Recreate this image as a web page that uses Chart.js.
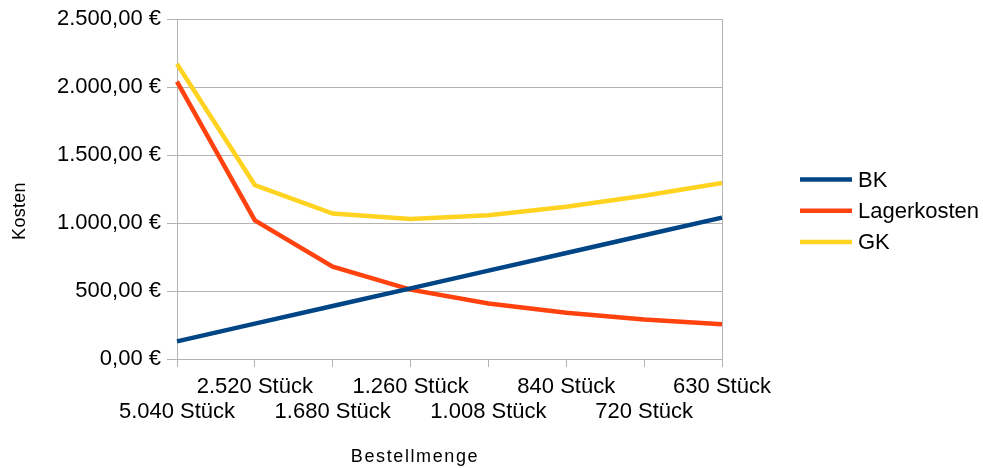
<!DOCTYPE html>
<html>
<head>
<meta charset="utf-8">
<script src="https://cdn.jsdelivr.net/npm/chart.js@4/dist/chart.umd.min.js"></script>
<style>
  html, body { margin: 0; padding: 0; background: #ffffff; }
  #wrap { width: 983px; height: 468px; position: relative; }
</style>
</head>
<body>
<div id="wrap"><canvas id="c" width="983" height="468"></canvas></div>
<script>
// Bestellmengen (order quantities) along the x axis
const categories = ['5.040 Stück', '2.520 Stück', '1.680 Stück', '1.260 Stück',
                    '1.008 Stück', '840 Stück', '720 Stück', '630 Stück'];
// Bestellkosten
const bk = [130, 260, 390, 520, 650, 780, 910, 1040];
// Lagerkosten
const lagerkosten = [2040, 1020, 680, 510, 408, 340, 291, 255];
// Gesamtkosten
const gk = [2170, 1280, 1070, 1030, 1058, 1120, 1201, 1295];
// y axis ticks
const yTicks = [0, 500, 1000, 1500, 2000, 2500];
// axis titles
const xTitle = 'Bestellmenge';
const yTitle = 'Kosten';

const FONT = "'Liberation Sans', Arial, sans-serif";
const GRID = '#b3b3b3';

function euro(v) {
  const fixed = Math.abs(v).toFixed(2);
  let [intPart, dec] = fixed.split('.');
  intPart = intPart.replace(/\B(?=(\d{3})+(?!\d))/g, '.');
  return (v < 0 ? '-' : '') + intPart + ',' + dec + ' €';
}

// Axis titles: the x title sits centred under the whole axis block
const axisTitles = {
  id: 'axisTitles',
  afterDraw(chart) {
    const ctx = chart.ctx;
    ctx.save();
    ctx.fillStyle = '#000000';
    ctx.font = '18px ' + FONT;
    ctx.textAlign = 'center';
    ctx.textBaseline = 'alphabetic';
    ctx.letterSpacing = '1.6px';
    ctx.fillText(xTitle, 415, 461.5);
    ctx.letterSpacing = '0.3px';
    ctx.translate(24.5, 211);
    ctx.rotate(-Math.PI / 2);
    ctx.fillText(yTitle, 0, 0);
    ctx.restore();
  }
};

// Legend drawn at the right of the plot, built from the datasets
const sideLegend = {
  id: 'sideLegend',
  afterDraw(chart) {
    const ctx = chart.ctx;
    const x0 = 800, x1 = 852, tx = 858, y0 = 179.5, step = 31.25;
    ctx.save();
    ctx.font = '22px ' + FONT;
    ctx.textBaseline = 'middle';
    ctx.textAlign = 'left';
    chart.data.datasets.forEach((ds, i) => {
      const y = y0 + i * step;
      ctx.strokeStyle = ds.borderColor;
      ctx.lineWidth = 4.5;
      ctx.beginPath();
      ctx.moveTo(x0, y);
      ctx.lineTo(x1, y);
      ctx.stroke();
      ctx.fillStyle = '#000000';
      ctx.fillText(ds.label, tx, y + 1);
    });
    ctx.restore();
  }
};

new Chart(document.getElementById('c'), {
  type: 'line',
  data: {
    labels: categories,
    datasets: [
      { label: 'BK', data: bk, borderColor: '#004586', backgroundColor: '#004586' },
      { label: 'Lagerkosten', data: lagerkosten, borderColor: '#ff420e', backgroundColor: '#ff420e' },
      { label: 'GK', data: gk, borderColor: '#ffd320', backgroundColor: '#ffd320' }
    ]
  },
  options: {
    responsive: false,
    animation: false,
    devicePixelRatio: 1,
    layout: { padding: { top: 16, right: 261, bottom: 0, left: 0 } },
    elements: {
      line: { borderWidth: 4.5, tension: 0, borderCapStyle: 'butt', borderJoinStyle: 'miter' },
      point: { radius: 0, hoverRadius: 0 }
    },
    plugins: {
      legend: { display: false },
      tooltip: { enabled: false }
    },
    scales: {
      x: {
        offset: false,
        afterFit(s) { s.height = 109; },
        grid: {
          drawOnChartArea: true,
          color: (c) => (c.index === categories.length - 1 ? GRID : 'rgba(0,0,0,0)'),
          tickColor: GRID,
          tickLength: 8,
          lineWidth: 1
        },
        border: { display: true, color: GRID, width: 1 },
        ticks: {
          autoSkip: false,
          maxRotation: 0,
          minRotation: 0,
          padding: 7,
          color: '#000000',
          font: { family: FONT, size: 22, lineHeight: 1.15 },
          callback: (v, i) => (i % 2 === 0 ? ['', categories[i]] : [categories[i], ''])
        }
      },
      y: {
        min: 0,
        max: 2500,
        afterFit(s) { s.width = 177; },
        afterBuildTicks(s) { s.ticks = yTicks.map(v => ({ value: v })); },
        grid: { color: GRID, tickColor: GRID, tickLength: 10, lineWidth: 1 },
        border: { display: true, color: GRID, width: 1 },
        ticks: {
          padding: 6,
          color: '#000000',
          font: { family: FONT, size: 22 },
          callback: (v) => euro(v)
        }
      }
    }
  },
  plugins: [sideLegend, axisTitles]
});
</script>
</body>
</html>
